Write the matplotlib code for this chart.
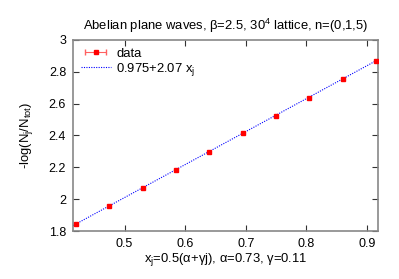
import matplotlib
matplotlib.use("Agg")
import matplotlib.pyplot as plt
from matplotlib.legend_handler import HandlerErrorbar
import numpy as np

plt.rcParams['font.family'] = ['Liberation Sans', 'DejaVu Sans']
plt.rcParams['mathtext.fontset'] = 'custom'
plt.rcParams['mathtext.rm'] = 'Liberation Sans'
plt.rcParams['mathtext.it'] = 'Liberation Sans'

# data
xj = [0.42, 0.475, 0.53, 0.585, 0.64, 0.695, 0.75, 0.805, 0.86, 0.915]
yj = [1.843, 1.957, 2.072, 2.184, 2.294, 2.413, 2.523, 2.636, 2.752, 2.870]
yerr = [0.004] * 10
fit_a, fit_b = 0.975, 2.07

fs = 9
fl = 9.4
fig = plt.figure(figsize=(3.99, 2.79), dpi=100)
ax = fig.add_axes([0.183, 0.172, 0.764, 0.685])

xs = np.array([0.415, 0.918])
fitline, = ax.plot(xs, fit_a + fit_b * xs, ls=(0, (1, 1.2)), color='blue', lw=0.8,
                   zorder=2)
ax.errorbar(xj, yj, yerr=yerr, fmt='s', color='red', ms=2.6, lw=0.8,
            capsize=1.5, ecolor='#ff9090', zorder=3)

# legend proxy: horizontal error bar like gnuplot's key sample
proxy = ax.errorbar([np.nan], [np.nan], xerr=[0.01], fmt='s', color='red',
                    ms=2.6, lw=0.8, capsize=2, ecolor='#ff6060')

ax.set_xlim(0.415, 0.918)
ax.set_ylim(1.8, 3.0)
ax.set_xticks([0.5, 0.6, 0.7, 0.8, 0.9])
ax.set_yticks([1.8, 2.0, 2.2, 2.4, 2.6, 2.8, 3.0])
ax.set_yticklabels(['1.8', '2', '2.2', '2.4', '2.6', '2.8', '3'])
ax.tick_params(direction='in', top=True, right=True, labelsize=fs, length=4,
               width=0.8, color='#333333', pad=5)
for s in ax.spines.values():
    s.set_color('#888888')
    s.set_linewidth(1.2)

ax.set_title(r'Abelian plane waves, β=2.5, 30$^\mathregular{4}$ lattice, n=(0,1,5)',
             fontsize=fl, pad=7)
ax.set_xlabel(r'x$_\mathregular{j}$=0.5(α+γj), α=0.73, γ=0.11', fontsize=fl, labelpad=1)
ax.set_ylabel(r'-log(N$_\mathregular{j}$/N$_\mathregular{tot}$)', fontsize=fl, labelpad=10)

ax.legend([proxy, fitline], ['data', r'0.975+2.07 x$_\mathregular{j}$'],
          loc='upper left', frameon=False, fontsize=fl,
          handlelength=2.3, borderaxespad=0.2, labelspacing=0.05, handletextpad=0.4,
          handler_map={type(proxy): HandlerErrorbar(xerr_size=0.8)})

fig.savefig('out.png', dpi=100)
